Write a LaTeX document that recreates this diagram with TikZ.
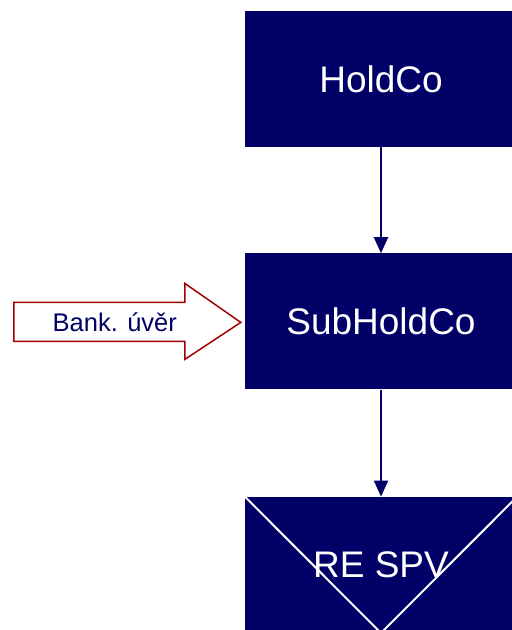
\documentclass[tikz,border=0pt]{standalone}
\usepackage{fontspec}
\setmainfont{Liberation Sans}
\usetikzlibrary{positioning,arrows.meta}
\definecolor{navy}{RGB}{0,0,102}
\definecolor{loanred}{RGB}{160,0,0}

\begin{document}
\begin{tikzpicture}[x=1pt,y=1pt,every node/.style={align=center},
  company/.style={rectangle,fill=navy,text=white,minimum width=272pt,minimum height=136pt,inner sep=0,font=\fontsize{37}{42}\selectfont},
  own/.style={draw=navy,line width=2pt,-{Triangle[width=14pt,length=16pt]}}]
\useasboundingbox (0,0) rectangle (512,630);

\node [company] (holdco) at (381,551) {HoldCo};
\node [company, below=106pt of holdco] (subholdco) {SubHoldCo};
\node [company, below=107pt of subholdco] (spv) {RE SPV};
\draw [white, line width=2pt] (spv.north west) -- (spv.south) -- (spv.north east);

\draw [own] (holdco) -- (subholdco);
\draw [own] (subholdco) -- (spv);

\coordinate (tip) at ([xshift=-4pt,yshift=-1pt]subholdco.west);
\draw [draw=loanred, fill=white, line width=1.5pt] (tip) -- ++(-56,39) -- ++(0,-19) -- ++(-171,0)
    -- ++(0,-39) -- ++(171,0) -- ++(0,-18) -- cycle;
\node [text=navy, font=\fontsize{25.5}{30}\selectfont] (loan) at ([xshift=-126pt]tip) {Bank. úvěr};
\end{tikzpicture}
\end{document}
